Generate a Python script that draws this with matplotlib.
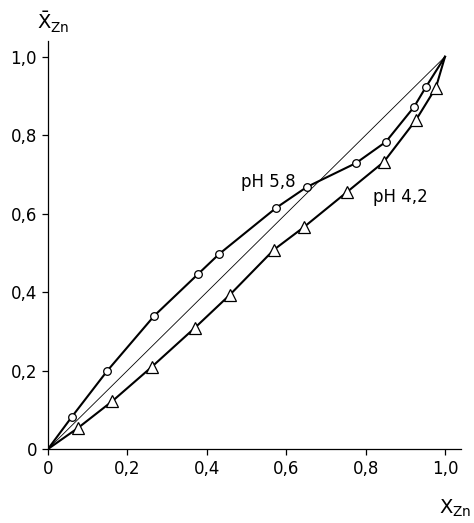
import matplotlib

matplotlib.use("Agg")
import matplotlib.pyplot as plt

# measured points, pH 5.8 (circles)
x_ph58 = [0.060, 0.149, 0.268, 0.378, 0.431, 0.575, 0.652, 0.776, 0.851, 0.922, 0.952]
y_ph58 = [0.082, 0.199, 0.340, 0.446, 0.497, 0.615, 0.668, 0.729, 0.783, 0.872, 0.923]

# measured points, pH 4.2 (triangles)
x_ph42 = [0.076, 0.162, 0.261, 0.370, 0.458, 0.569, 0.645, 0.753, 0.846, 0.927, 0.977]
y_ph42 = [0.054, 0.122, 0.209, 0.309, 0.393, 0.508, 0.566, 0.655, 0.732, 0.839, 0.921]

# both curves start at the origin and end at (1, 1)
curve_start = (0.0, 0.0)
curve_end = (1.0, 1.0)

ticks = [0, 0.2, 0.4, 0.6, 0.8, 1.0]
tick_labels = ["0", "0,2", "0,4", "0,6", "0,8", "1,0"]

plt.rcParams["mathtext.fontset"] = "dejavusans"

fig = plt.figure(figsize=(4.74, 5.23), dpi=100)
ax = fig.add_axes([0.1013, 0.1415, 0.871, 0.780])

ax.plot([0, 1], [0, 1], color="black", linewidth=0.6)

for xs, ys, marker, ms in [(x_ph58, y_ph58, "o", 5.5), (x_ph42, y_ph42, "^", 8)]:
    line_x = [curve_start[0]] + xs + [curve_end[0]]
    line_y = [curve_start[1]] + ys + [curve_end[1]]
    ax.plot(line_x, line_y, color="black", linewidth=1.5, zorder=2)
    ax.plot(xs, ys, linestyle="none", marker=marker, markersize=ms,
            markerfacecolor="white", markeredgecolor="black",
            markeredgewidth=0.9, zorder=3)

ax.text(0.554, 0.681, "pH 5,8", fontsize=12, ha="center", va="center")
ax.text(0.887, 0.643, "pH 4,2", fontsize=12, ha="center", va="center")

ax.set_xlim(0, 1.04)
ax.set_ylim(0, 1.04)
ax.set_xticks(ticks)
ax.set_xticklabels(tick_labels)
ax.set_yticks(ticks)
ax.set_yticklabels(tick_labels)
ax.tick_params(direction="out", length=4, width=0.9, labelsize=12, pad=4)
for side in ("top", "right"):
    ax.spines[side].set_visible(False)
for side in ("left", "bottom"):
    ax.spines[side].set_linewidth(0.9)

fig.text(0.112, 0.958, r"$\bar{\mathrm{X}}_{\mathrm{Zn}}$", fontsize=14,
         ha="center", va="center")
fig.text(0.960, 0.028, r"$\mathrm{X}_{\mathrm{Zn}}$", fontsize=14,
         ha="center", va="center")

fig.savefig("out.png", dpi=100)
